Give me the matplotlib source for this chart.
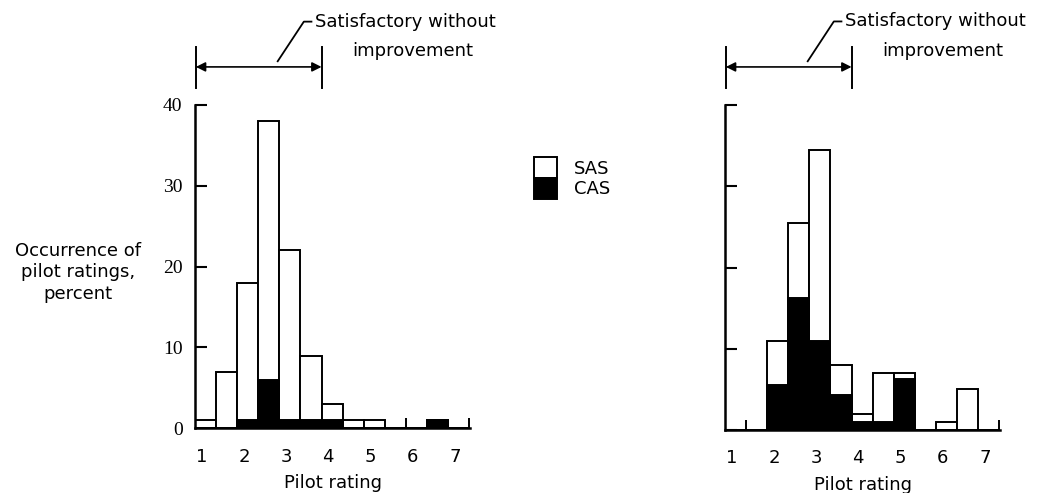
import numpy as np
import matplotlib
matplotlib.use("Agg")
import matplotlib.pyplot as plt
from matplotlib.patches import Patch

plt.rcParams['font.family'] = ['DejaVu Sans']
plt.rcParams['font.size'] = 13

# ── Data ──────────────────────────────────────────────────
# pilot-rating bins (half-point steps)
ratings = [1.0, 1.5, 2.0, 2.5, 3.0, 3.5, 4.0, 4.5, 5.0, 5.5, 6.0, 6.5, 7.0]

# left panel: total occurrence and CAS part, percent
left_total = [1, 7, 18, 38, 22, 9, 3, 1, 1, 0, 0, 1, 0]
left_cas   = [0, 0, 1, 6, 1, 1, 1, 0, 0, 0, 0, 1, 0]

# right panel
right_total = [0, 0, 11, 25.5, 34.5, 8, 2, 7, 7, 0, 1, 5, 0]
right_cas   = [0, 0, 5.5, 16.3, 11, 4.3, 1, 1, 6.3, 0, 0, 0, 0]

tick_labels = ['1', '2', '3', '4', '5', '6', '7']
y_ticks = [0, 10, 20, 30, 40]
satisfactory_max = 3.5

BIN_W = 0.5
OFFSET = -0.16   # bins drawn slightly left of the printed numbers


def draw_panel(ax, total, cas, show_ylabels):
    r = np.array(ratings)
    left = r + OFFSET
    ax.bar(left, total, width=BIN_W, align='edge', color='white',
           edgecolor='black', linewidth=1.4, zorder=2)
    ax.bar(left, cas, width=BIN_W, align='edge', color='black',
           edgecolor='black', linewidth=1.4, zorder=3)

    ax.set_xlim(left[0], left[-1] + BIN_W + 0.02)
    ax.set_ylim(0, 40)

    for s in ['top', 'right']:
        ax.spines[s].set_visible(False)
    ax.spines['left'].set_linewidth(1.8)
    ax.spines['bottom'].set_linewidth(1.8)

    ax.set_xticks(range(1, 8))
    ax.set_xticklabels(tick_labels)
    ax.tick_params(axis='x', length=0, pad=14, labelsize=13)

    # small marks on bin edges not shown by any bar
    edges = list(left) + [left[-1] + BIN_W]
    marks = []
    for i in range(1, len(edges)):
        prev_empty = total[i - 1] == 0
        next_empty = i >= len(total) or total[i] == 0
        if prev_empty and next_empty:
            marks.append(edges[i])
    ax.set_xticks(marks, minor=True)
    ax.tick_params(axis='x', which='minor', direction='in', length=7,
                   width=1.4)

    ax.set_yticks(y_ticks)
    ax.tick_params(axis='y', direction='in', length=8.6, width=1.5, pad=9)
    if show_ylabels:
        for lab in ax.get_yticklabels():
            lab.set_fontfamily('Liberation Serif')
            lab.set_fontsize(14)
    else:
        ax.set_yticklabels([])

    ax.set_xlabel('Pilot rating', fontsize=13, labelpad=6)

    # ── "Satisfactory without improvement" bracket ──
    x0 = edges[0] + 0.02
    x1 = left[ratings.index(satisfactory_max)] + BIN_W
    for x in (x0, x1):
        ax.plot([x, x], [42.1, 47.2], color='black', lw=1.4,
                clip_on=False)
    ax.annotate('', xy=(x1, 44.7), xytext=(x0, 44.7),
                arrowprops=dict(arrowstyle='<|-|>', color='black', lw=1.2,
                                mutation_scale=14, shrinkA=0, shrinkB=0),
                annotation_clip=False)
    ax.plot([2.8, 3.42, 3.6], [45.4, 50.3, 50.3], color='black', lw=1.3,
            clip_on=False)
    ax.text(3.68, 50.3, 'Satisfactory without', ha='left', va='center',
            fontsize=13, clip_on=False)
    ax.text(6.0, 46.7, 'improvement', ha='center', va='center',
            fontsize=13, clip_on=False)


fig = plt.figure(figsize=(10.38, 4.93), dpi=100)
ax1 = fig.add_axes([0.1879, 0.1312, 0.2649, 0.656])
ax2 = fig.add_axes([0.6985, 0.1278, 0.2649, 0.659])

draw_panel(ax1, left_total, left_cas, True)
draw_panel(ax2, right_total, right_cas, False)

fig.text(0.075, 0.448, 'Occurrence of\npilot ratings,\npercent',
         ha='center', va='center', fontsize=13, linespacing=1.25)

handles = [Patch(facecolor='white', edgecolor='black', linewidth=1.4),
           Patch(facecolor='black', edgecolor='black', linewidth=1.4)]
fig.legend(handles, ['SAS', 'CAS'], loc='center',
           bbox_to_anchor=(0.551, 0.639), frameon=False,
           handlelength=1.3, handleheight=1.4, labelspacing=0,
           handletextpad=0.9, fontsize=13)

plt.savefig('out.png', dpi=100)
